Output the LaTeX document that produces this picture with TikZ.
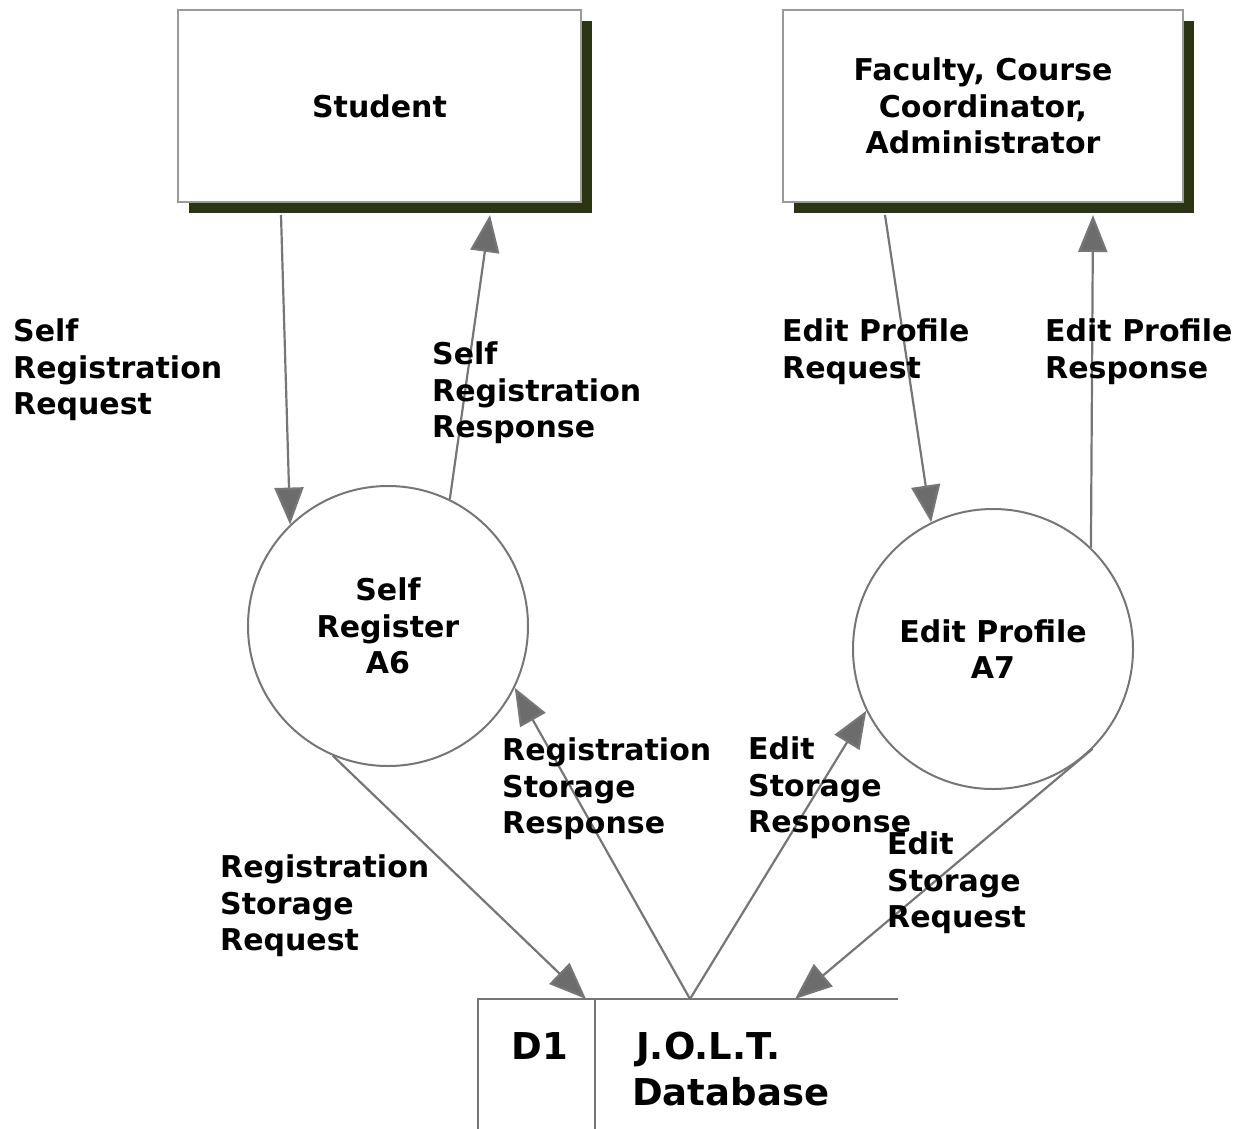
\documentclass[tikz,border=0pt]{standalone}
\usepackage{fontspec}
\setmainfont{DejaVu Sans}
\usetikzlibrary{arrows.meta,shadows,calc}
\definecolor{linegray}{HTML}{767676}
\definecolor{headgray}{HTML}{6C6C6C}
\definecolor{boxgray}{HTML}{9A9A9A}
\definecolor{shadowolive}{HTML}{2B3514}
\begin{document}
\begin{tikzpicture}[x=1pt,y=-1pt,
  txt/.style={font=\fontsize{30}{36.5}\selectfont\bfseries, inner sep=0pt, align=left},
  ctxt/.style={font=\fontsize{30}{36.5}\selectfont\bfseries, align=center},
  dbtxt/.style={font=\fontsize{37}{46}\selectfont\bfseries, inner sep=0pt, align=left},
  entity/.style={draw=boxgray, line width=2pt, fill=white, minimum width=403pt, minimum height=192pt, inner sep=0pt,
    drop shadow={shadow xshift=11pt, shadow yshift=-11pt, fill=shadowolive, opacity=1}},
  process/.style={circle, draw=linegray, line width=2pt, minimum size=280pt, inner sep=0pt},
  flow/.style={draw=linegray, line width=2.2pt, -{Triangle[length=37pt,width=29pt,fill=headgray]}},
  dbline/.style={draw=linegray, line width=2.2pt}]
\useasboundingbox (0,0) rectangle (1245,1129);

% entities
\node[entity, ctxt] (student) at (379.5,106) {Student};
\node[entity, ctxt, minimum width=400pt] (faculty) at (983,106) {Faculty, Course\\Coordinator,\\Administrator};

% processes
\node[process, ctxt] (a6) at (388,626) {Self\\Register\\A6};
\node[process, ctxt] (a7) at (993,649) {Edit Profile\\A7};

% data store
\node[draw=none, minimum width=420pt, minimum height=140pt, inner sep=0pt, anchor=north west] (db) at (478,999) {};
\draw[dbline] (db.south west) -- (db.north west) -- (db.north east);
\draw[dbline] ([xshift=117pt]db.north west) -- ([xshift=117pt]db.south west);
\node[dbtxt] (d1) at (540,1046) {D1};
\node[dbtxt, anchor=west] (jolt) at (632,1069) {\hspace*{4pt}J.O.L.T.\\Database};

% flows
\draw[flow] ([xshift=-98.5pt,yshift=-12pt]student.south) -- (a6.134);
\draw[flow] (a6.64) -- ([xshift=110.5pt,yshift=-12pt]student.south);
\draw[flow] ([xshift=-98pt,yshift=-12pt]faculty.south) -- (a7.116);
\draw[flow] (a7.46) -- ([xshift=110pt,yshift=-12pt]faculty.south);
\draw[flow] (a6.247) -- ([xshift=108pt]db.north west);
\draw[flow] ([xshift=212pt]db.north west) -- (a6.334);
\draw[flow] ([xshift=212pt]db.north west) -- (a7.206);
\draw[flow] (a7.315) -- ([xshift=317pt]db.north west);

% labels
\node[txt, anchor=west] (l1) at (13,370) {Self\\Registration\\Request};
\node[txt, anchor=west] (l2) at (432,393) {Self\\Registration\\Response};
\node[txt, anchor=west] (l3) at (782,351.5) {Edit Profile\\Request};
\node[txt, anchor=west] (l4) at (1045,351.5) {Edit Profile\\Response};
\node[txt, anchor=west] (l5) at (220,906) {Registration\\Storage\\Request};
\node[txt, anchor=west] (l6) at (502,789) {Registration\\Storage\\Response};
\node[txt, anchor=west] (l7) at (748,788) {Edit\\Storage\\Response};
\node[txt, anchor=west] (l8) at (887,883) {Edit\\Storage\\Request};
\end{tikzpicture}
\end{document}
